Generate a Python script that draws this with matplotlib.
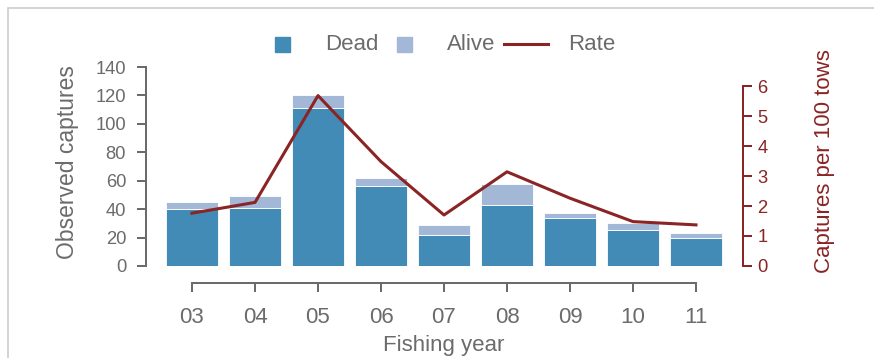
import matplotlib.pyplot as plt
import numpy as np
from matplotlib.patches import Rectangle
from matplotlib.lines import Line2D

plt.rcParams['font.family'] = ['Liberation Sans', 'DejaVu Sans']

# captures by fishing year
years = ["03", "04", "05", "06", "07", "08", "09", "10", "11"]
dead = [40, 41, 111, 56, 22, 43, 34, 25, 20]
alive = [5, 8, 9, 6, 7, 15, 3, 5, 3]
rate = [1.76, 2.12, 5.68, 3.48, 1.70, 3.14, 2.26, 1.48, 1.37]

c_dead = "#438bb7"
c_alive = "#a3b8d7"
c_rate = "#8b2424"
c_text = "#6b6b6b"

W, H = 874, 358
PT = 72 / 100  # points per pixel

fig = plt.figure(figsize=(W / 100, H / 100), dpi=100)

def fx(px):
    return px / W

def fy(py):
    return 1 - py / H

# light frame around the panel
fig.patches.append(Rectangle((fx(8), -0.1), 1.2, fy(8) + 0.1,
                             transform=fig.transFigure, fill=False,
                             edgecolor="#cccccc", linewidth=1.2))

x = np.arange(1, len(years) + 1)
ax = fig.add_axes([fx(160.5), fy(266), fx(727.5 - 160.5), (266 - 67) / H])
ax.bar(x, dead, width=0.83, color=c_dead, edgecolor="white", linewidth=0.6)
ax.bar(x, alive, bottom=dead, width=0.83, color=c_alive, edgecolor="white", linewidth=0.6)
ax.set_xlim(0.5, 9.5)
ax.set_ylim(0, 140)
ax.patch.set_visible(False)

for s in ["top", "right"]:
    ax.spines[s].set_visible(False)
ax.spines["left"].set_position(("outward", 15 * PT))
ax.spines["left"].set_bounds(0, 140)
ax.spines["bottom"].set_position(("outward", 17 * PT))
ax.spines["bottom"].set_bounds(1, 9)
for s in ["left", "bottom"]:
    ax.spines[s].set_color(c_text)
    ax.spines[s].set_linewidth(2 * PT)

ax.set_yticks(np.arange(0, 141, 20))
ax.set_xticks(x)
ax.set_xticklabels(years)
ax.tick_params(axis="both", colors=c_text, width=2 * PT, length=9 * PT)
ax.tick_params(axis="x", labelsize=16, pad=11)
ax.tick_params(axis="y", labelsize=13.2, pad=7.5)
ax.set_xlabel("Fishing year", fontsize=16, color=c_text, labelpad=5)
ax.set_ylabel("Observed captures", fontsize=16.5, color=c_text, labelpad=12)
ax.yaxis.label.set_y(0.52)

ax2 = ax.twinx()
ax2.plot(x, rate, color=c_rate, linewidth=2.2)
ax2.set_ylim(0, 199 / 30)
for s in ["top", "left", "bottom"]:
    ax2.spines[s].set_visible(False)
ax2.spines["right"].set_position(("outward", 15.5 * PT))
ax2.spines["right"].set_bounds(0, 6)
ax2.spines["right"].set_color(c_rate)
ax2.spines["right"].set_linewidth(2 * PT)
ax2.set_yticks(np.arange(0, 7, 1))
ax2.tick_params(axis="y", colors=c_rate, labelsize=13.2, width=2 * PT, length=9 * PT, pad=4)
ax2.set_ylabel("Captures per 100 tows", fontsize=16, color=c_rate, labelpad=33)
ax2.yaxis.label.set_y(0.525)

# legend row along the top
ly = fy(44)
fig.add_artist(Line2D([fx(282)], [ly], marker="s", markersize=15 * PT,
                      color=c_dead, transform=fig.transFigure))
fig.text(fx(325), ly, "Dead", fontsize=16, color=c_text, va="center")
fig.add_artist(Line2D([fx(404)], [ly], marker="s", markersize=15 * PT,
                      color=c_alive, transform=fig.transFigure))
fig.text(fx(447), ly, "Alive", fontsize=16, color=c_text, va="center")
fig.add_artist(Line2D([fx(504), fx(548)], [ly, ly], color=c_rate,
                      linewidth=2.2, transform=fig.transFigure))
fig.text(fx(568), ly, "Rate", fontsize=16, color=c_text, va="center")

fig.savefig("out.png", dpi=100)
